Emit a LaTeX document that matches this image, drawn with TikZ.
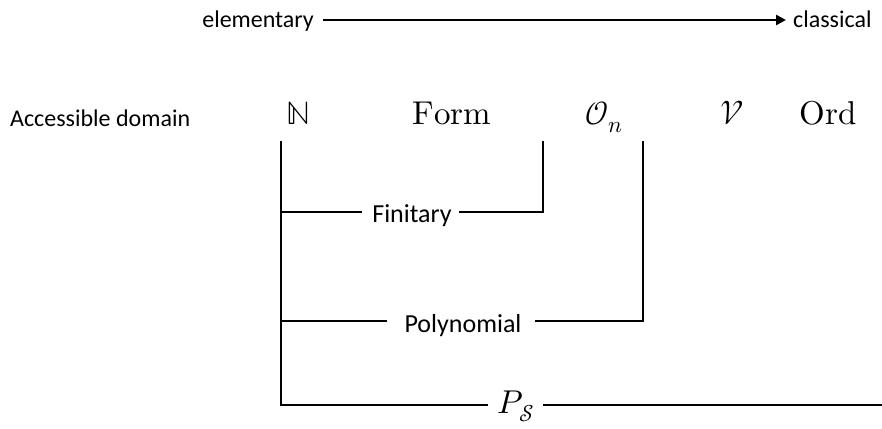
\documentclass[tikz,border=0pt]{standalone}
\usepackage{unicode-math}
\setmathfont{Latin Modern Math}
\setmainfont{Carlito}
\usetikzlibrary{arrows.meta}
\begin{document}
\begin{tikzpicture}[x=1pt,y=-1pt,
  lab/.style={inner sep=0pt,anchor=base,font=\fontsize{24}{28}\selectfont},
  blab/.style={inner sep=0pt,anchor=base,font=\fontsize{26}{30}\selectfont},
  mth/.style={inner sep=0pt,anchor=base,font=\fontsize{33}{36}\selectfont},
  ln/.style={line width=1.7pt},
  arr/.style={line width=2.8pt,-{Triangle[length=10pt,width=10pt]}}]
\useasboundingbox (0,0) rectangle (882,428);
% top arrow
\node[lab,anchor=base east] (elem) at (314,28) {elementary};
\node[lab,anchor=base west] (class) at (793,28) {classical};
\draw[arr] ([xshift=9pt,yshift=8pt]elem.base east) -- ([xshift=-7pt,yshift=8pt]class.base west);
% domain row
\node[lab,anchor=base west] (acc) at (10,126) {Accessible domain};
\node[mth] (N) at (298,124) {$\symbb{N}$};
\node[mth] (form) at (452,124) {$\symup{Form}$};
\node[mth] (On) at (604,124) {$\symcal{O}_n$};
\node[mth] (V) at (732,124) {$\symcal{V}$};
\node[mth] (ord) at (828,124) {$\symup{Ord}$};
% bracket coordinates
\coordinate (top0) at (281,141);
\coordinate (bot0) at (281,405);
\coordinate (f0) at (281,212);
\coordinate (f1) at (543,212);
\coordinate (f2) at (543,141);
\coordinate (p0) at (281,321);
\coordinate (p1) at (643,321);
\coordinate (p2) at (643,141);
\coordinate (s1) at (882,405);
% labels
\node[blab] (fin) at (412,222) {Finitary};
\node[blab] (poly) at (463,332) {Polynomial};
\node[mth] (ps) at (516,413) {$P_{\symcal{S}}$};
% connectors
\draw[ln] (top0) -- (bot0) -- ([xshift=-10pt]bot0 -| ps.west);
\draw[ln] ([xshift=9pt]s1 -| ps.east) -- (s1);
\draw[ln] (f0) -- ([xshift=-10pt]f0 -| fin.west);
\draw[ln] ([xshift=7pt]f1 -| fin.east) -- (f1) -- (f2);
\draw[ln] (p0) -- ([xshift=-17pt]p0 -| poly.west);
\draw[ln] ([xshift=13pt]p1 -| poly.east) -- (p1) -- (p2);
\end{tikzpicture}
\end{document}
